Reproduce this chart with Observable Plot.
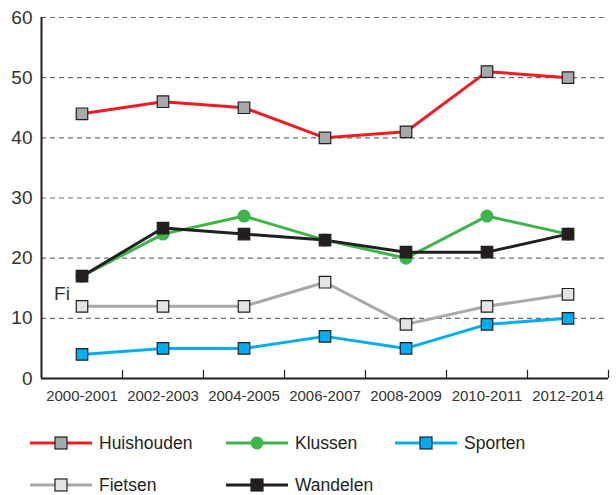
<!DOCTYPE html>
<html><head><meta charset="utf-8">
<script src="https://cdn.jsdelivr.net/npm/d3@7"></script>
<script src="https://cdn.jsdelivr.net/npm/@observablehq/plot@0.6"></script>
<style>
body{margin:0;background:#fff;font-family:"Liberation Sans",Arial,sans-serif;}
#chart svg{display:block}
</style></head><body><div id="chart"></div>
<script>
const periods = ["2000-2001","2002-2003","2004-2005","2006-2007","2008-2009","2010-2011","2012-2014"];
const huishouden = [44,46,45,40,41,51,50];
const klussen = [17,24,27,23,20,27,24];
const sporten = [4,5,5,7,5,9,10];
const fietsen = [12,12,12,16,9,12,14];
const wandelen = [17,25,24,23,21,21,24];
const yTicks = [0,10,20,30,40,50,60];
const strayLabel = "Fi";

const series = [
  {name:"Huishouden", values:huishouden, stroke:"#ed1c24", fill:"#a7a9ac", symbol:"square"},
  {name:"Fietsen", values:fietsen, stroke:"#a7a9ac", fill:"#e2e3e4", symbol:"square"},
  {name:"Sporten", values:sporten, stroke:"#00aeef", fill:"#00aeef", symbol:"square"},
  {name:"Klussen", values:klussen, stroke:"#3db549", fill:"#3db549", symbol:"circle"},
  {name:"Wandelen", values:wandelen, stroke:"#231f20", fill:"#231f20", symbol:"square"}
];
const rows = series.flatMap(s => s.values.map((v,i)=>({s:s.name, i, v, stroke:s.stroke, fill:s.fill, symbol:s.symbol})));
const idx = periods.map((p,i)=>i);
const bounds = periods.map((p,i)=>i+0.5);

const marks = [
  Plot.gridY(yTicks.filter(d=>d>0), {stroke:"#6d6e71", strokeOpacity:1, strokeDasharray:"5,4", strokeWidth:1.2}),
  Plot.axisY({ticks:yTicks, tickSize:0, tickPadding:9, fontSize:19, color:"#333", label:null}),
  Plot.axisX({ticks:idx, tickFormat:i=>periods[i], tickSize:0, tickPadding:12, fontSize:15, color:"#333", label:null}),
  Plot.ruleX(bounds, {y1:0, y2:1.35, stroke:"#231f20", strokeWidth:1.2}),
];
for (const s of series) {
  const d = rows.filter(r=>r.s===s.name);
  marks.push(Plot.line(d, {x:"i", y:"v", stroke:s.stroke, strokeWidth:3}));
}
for (const s of series) {
  const d = rows.filter(r=>r.s===s.name);
  if (s.symbol==="circle") marks.push(Plot.dot(d, {x:"i", y:"v", fill:s.fill, r:6.5, stroke:"none"}));
  else marks.push(Plot.dot(d, {x:"i", y:"v", symbol:"square", fill:s.fill, stroke:"#231f20", strokeWidth:1.2, r:6.5}));
}
marks.push(Plot.ruleY([0], {stroke:"#231f20", strokeWidth:2}));
marks.push(Plot.ruleX([-0.5], {stroke:"#231f20", strokeWidth:2}));
marks.push(Plot.text([strayLabel], {x:0, y:14, text:d=>d, dx:-20, fontSize:19, fill:"#333", textAnchor:"middle"}));

const plot = Plot.plot({
  width:616, height:410,
  marginLeft:41, marginRight:8, marginTop:17, marginBottom:32,
  style:{fontFamily:"Liberation Sans, Arial, sans-serif", background:"#fff"},
  x:{type:"linear", domain:[-0.5,6.5], axis:null},
  y:{domain:[0,60], axis:null},
  marks
});
document.getElementById("chart").appendChild(plot);

// legend
const legendOrder = ["Huishouden","Klussen","Sporten","Fietsen","Wandelen"];
const lsvg = d3.select("#chart").append("svg").attr("width",616).attr("height",85)
  .style("font-family","Liberation Sans, Arial, sans-serif");
const pos = [[30,33],[226,33],[395,33],[30,75],[226,75]];
legendOrder.forEach((n,k)=>{
  const s = series.find(q=>q.name===n);
  const [x,y] = pos[k];
  const g = lsvg.append("g").attr("transform",`translate(${x},${y})`);
  g.append("line").attr("x1",0).attr("x2",62).attr("y1",0).attr("y2",0).attr("stroke",s.stroke).attr("stroke-width",3);
  if (s.symbol==="circle") g.append("circle").attr("cx",31).attr("cy",0).attr("r",6.5).attr("fill",s.fill);
  else g.append("rect").attr("x",25).attr("y",-6).attr("width",12).attr("height",12).attr("fill",s.fill).attr("stroke","#231f20").attr("stroke-width",1.2);
  g.append("text").attr("x",69).attr("y",0).attr("dy","0.35em").attr("font-size",17.5).attr("fill","#231f20").text(n);
});
</script></body></html>
